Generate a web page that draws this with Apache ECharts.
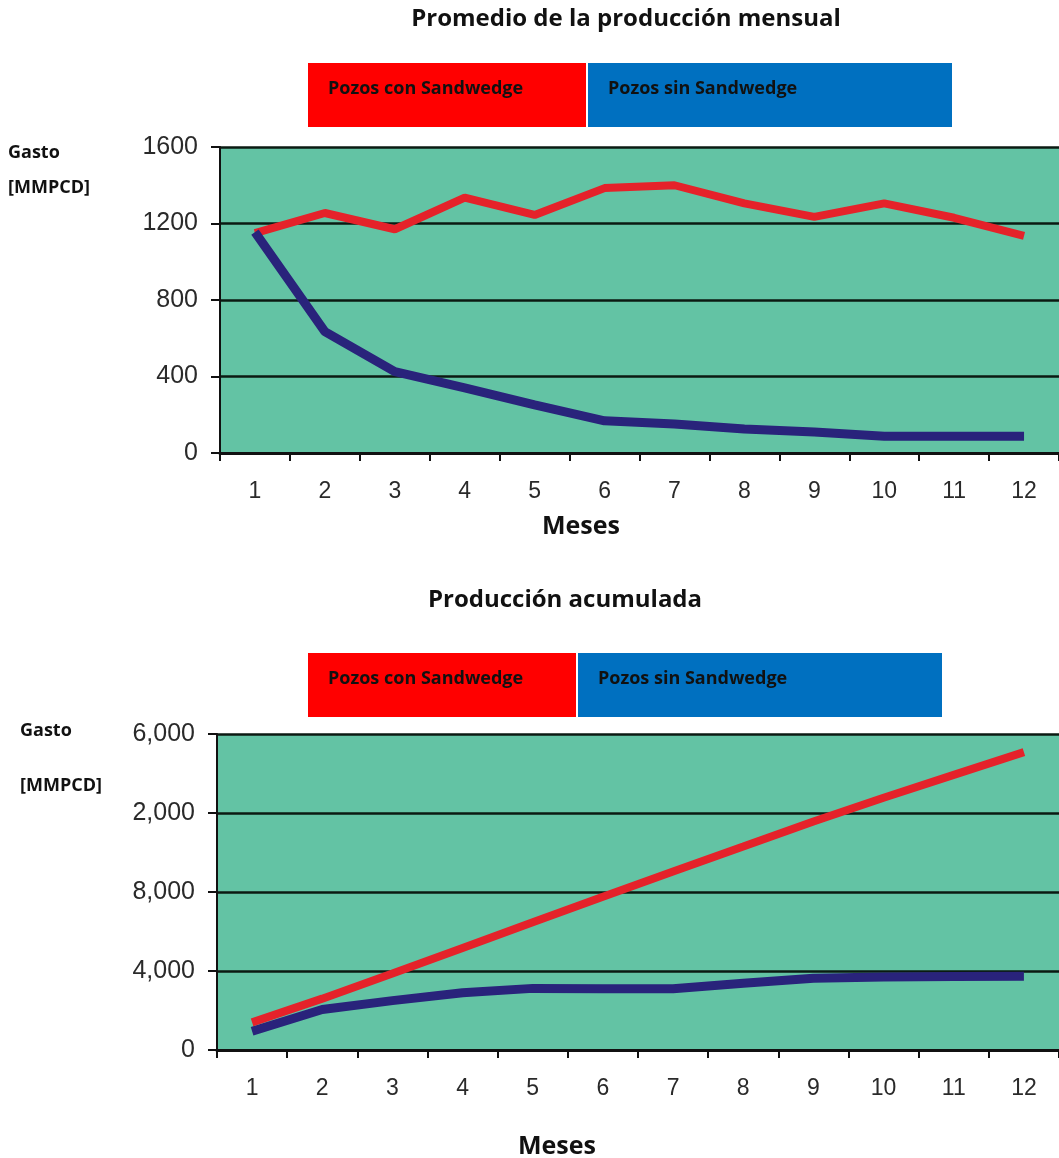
<!DOCTYPE html>
<html>
<head>
<meta charset="utf-8">
<script src="https://cdn.jsdelivr.net/npm/echarts@6/dist/echarts.min.js"></script>
<style>html,body{margin:0;padding:0;background:#fff}#c{width:1059px;height:1158px}</style>
</head>
<body>
<div id="c"></div>
<script>
const months = ['1','2','3','4','5','6','7','8','9','10','11','12'];
const monthlyWith = [1150, 1255, 1170, 1335, 1245, 1385, 1400, 1305, 1235, 1305, 1230, 1135];
const monthlyWithout = [1155, 635, 425, 340, 252, 168, 152, 125, 110, 88, 88, 88];
const cumWith = [1400, 2600, 3870, 5170, 6470, 7760, 9040, 10300, 11570, 12770, 13930, 15080];
const cumWithout = [950, 2050, 2500, 2900, 3120, 3100, 3100, 3380, 3630, 3700, 3720, 3740];
const topTicks = ['0','400','800','1200','1600'];
const bottomTicks = ['0','4,000','8,000','2,000','6,000'];
const titles = ['Promedio de la producción mensual', 'Producción acumulada'];
const legendNames = ['Pozos con Sandwedge', 'Pozos sin Sandwedge'];

const chart = echarts.init(document.getElementById('c'));
const txtFont = '"Open Sans", sans-serif';
const tickFont = '"Liberation Sans", Arial, sans-serif';
const bg = '#63c3a4';
const redLine = '#e5222a';
const blueLine = '#29237b';

function yAxis(gi, max, labels) {
  return {
    type: 'value', gridIndex: gi, min: 0, max: max, interval: max / 4,
    axisLine: {show: true, lineStyle: {color: '#111', width: 2}},
    axisTick: {show: true, length: 9, lineStyle: {color: '#111', width: 2}},
    splitLine: {show: true, lineStyle: {color: '#0b1a12', width: 2.5}},
    axisLabel: {color: '#2a2a2a', fontFamily: tickFont, fontSize: 25, margin: 22,
      formatter: v => labels[Math.round(v / (max / 4))]}
  };
}
function xAxis(gi) {
  return {
    type: 'category', gridIndex: gi, data: months, boundaryGap: true,
    axisLine: {show: true, lineStyle: {color: '#111', width: 3}},
    axisTick: {show: true, length: 8, alignWithLabel: false, lineStyle: {color: '#111', width: 2}},
    axisLabel: {color: '#2a2a2a', fontFamily: tickFont, fontSize: 23, margin: 27},
    splitLine: {show: false}
  };
}
function legendBox(x1, x2, x3, y, h) {
  return [
    {type: 'rect', shape: {x: x1, y: y, width: x2 - x1 - 2, height: h}, style: {fill: '#ff0000'}},
    {type: 'rect', shape: {x: x2, y: y, width: x3 - x2, height: h}, style: {fill: '#0070c0'}},
    {type: 'text', x: x1 + 20, y: y + 26, style: {text: legendNames[0], fill: '#111', font: 'bold 18px ' + txtFont, textVerticalAlign: 'middle'}},
    {type: 'text', x: x2 + 20, y: y + 26, style: {text: legendNames[1], fill: '#111', font: 'bold 18px ' + txtFont, textVerticalAlign: 'middle'}}
  ];
}
function sideText(x, y1, y2) {
  return [
    {type: 'text', x: x, y: y1, style: {text: 'Gasto', fill: '#111', font: 'bold 18px ' + txtFont, textVerticalAlign: 'middle'}},
    {type: 'text', x: x, y: y2, style: {text: '[MMPCD]', fill: '#111', font: 'bold 18px ' + txtFont, textVerticalAlign: 'middle'}}
  ];
}

chart.setOption({
  backgroundColor: '#fff',
  animation: false,
  title: [
    {text: titles[0], left: 621, top: 2, textAlign: 'center', textStyle: {fontFamily: txtFont, fontWeight: 'bold', fontSize: 24, color: '#111'}},
    {text: titles[1], left: 560, top: 583, textAlign: 'center', textStyle: {fontFamily: txtFont, fontWeight: 'bold', fontSize: 24, color: '#111'}}
  ],
  grid: [
    {left: 220, top: 147, width: 840, height: 306, show: true, backgroundColor: bg, borderWidth: 0},
    {left: 217, top: 734, width: 852, height: 316, show: true, backgroundColor: bg, borderWidth: 0}
  ],
  xAxis: [xAxis(0), xAxis(1)],
  yAxis: [yAxis(0, 1600, topTicks), yAxis(1, 16000, bottomTicks)],
  series: [
    {type: 'line', name: legendNames[0], xAxisIndex: 0, yAxisIndex: 0, data: monthlyWith, showSymbol: false, symbol: 'none', lineStyle: {color: redLine, width: 8}},
    {type: 'line', name: legendNames[1], xAxisIndex: 0, yAxisIndex: 0, data: monthlyWithout, showSymbol: false, symbol: 'none', lineStyle: {color: blueLine, width: 9}},
    {type: 'line', name: legendNames[1], xAxisIndex: 1, yAxisIndex: 1, data: cumWithout, showSymbol: false, symbol: 'none', lineStyle: {color: blueLine, width: 9}},
    {type: 'line', name: legendNames[0], xAxisIndex: 1, yAxisIndex: 1, data: cumWith, showSymbol: false, symbol: 'none', lineStyle: {color: redLine, width: 8}}
  ],
  graphic: [].concat(
    legendBox(308, 588, 952, 63, 64),
    legendBox(308, 578, 942, 653, 64),
    sideText(8, 153, 188),
    sideText(20, 731, 786),
    [
      {type: 'text', x: 581, y: 527, style: {text: 'Meses', fill: '#111', font: 'bold 25px ' + txtFont, textAlign: 'center', textVerticalAlign: 'middle'}},
      {type: 'text', x: 557, y: 1147, style: {text: 'Meses', fill: '#111', font: 'bold 25px ' + txtFont, textAlign: 'center', textVerticalAlign: 'middle'}}
    ]
  )
});
</script>
</body>
</html>
